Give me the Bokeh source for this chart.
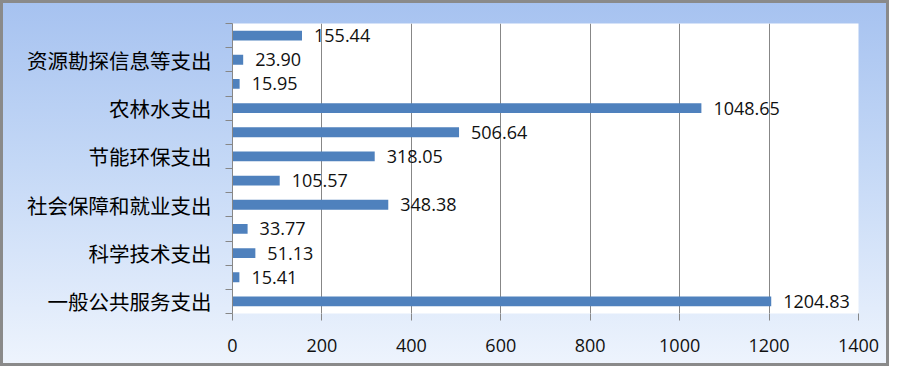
from bokeh.plotting import figure
from bokeh.models import FixedTicker, Range1d, ColumnDataSource
from bokeh.core.properties import value
from bokeh.embed import file_html
from bokeh.resources import INLINE

# Data (bottom to top)
bar_values = [1204.83, 15.41, 51.13, 33.77, 348.38, 105.57, 318.05, 506.64, 1048.65, 15.95, 23.90, 155.44]
axis_labels = ["一般公共服务支出", "科学技术支出", "社会保障和就业支出", "节能环保支出", "农林水支出", "资源勘探信息等支出"]
x_ticks = [0, 200, 400, 600, 800, 1000, 1200, 1400]

positions = [i + 0.5 for i in range(len(bar_values))]
label_positions = [positions[2 * k] for k in range(len(axis_labels))]
value_texts = ["%.2f" % v for v in bar_values]

src = ColumnDataSource(dict(y=positions, right=bar_values, txt=value_texts))

GRAY = "#878787"
p = figure(width=889, height=366, output_backend="svg", toolbar_location=None,
           x_range=Range1d(0, 1400), y_range=Range1d(0, len(bar_values)),
           min_border_left=232, min_border_right=31, min_border_top=23, min_border_bottom=53)
p.border_fill_alpha = 0
p.background_fill_color = "white"
p.outline_line_color = None
p.styles = {"background": "linear-gradient(to bottom, #a6c2f0 0%, #c4d8f6 45%, #eef4fd 100%)",
            "box-shadow": "inset 0 0 0 3px #8a8a8a"}

p.hbar(y="y", left=0, right="right", height=0.41, source=src, color="#4f81bd", line_color=None)
p.text(x="right", y="y", text="txt", source=src, x_offset=12, text_align="left", text_baseline="middle",
       text_font=value("Open Sans"), text_font_size="18px", text_color="#111111")

# x axis
p.xaxis.ticker = FixedTicker(ticks=x_ticks)
p.xaxis.axis_line_color = None
p.xaxis.major_tick_line_color = GRAY
p.xaxis.major_tick_out = 7
p.xaxis.major_tick_in = 0
p.xaxis.minor_tick_line_color = None
p.xaxis.major_label_standoff = 18
p.xaxis.major_label_text_font = "Open Sans"
p.xaxis.major_label_text_font_size = "18px"
p.xaxis.major_label_text_color = "#111111"

p.xgrid.ticker = FixedTicker(ticks=x_ticks)
p.xgrid.grid_line_color = GRAY
p.ygrid.grid_line_color = None

# y axis
p.yaxis.ticker = FixedTicker(ticks=label_positions, minor_ticks=list(range(len(bar_values) + 1)))
p.yaxis.major_label_overrides = {pos: lbl for pos, lbl in zip(label_positions, axis_labels)}
p.yaxis.axis_line_color = GRAY
p.yaxis.major_tick_line_color = None
p.yaxis.major_tick_out = 0
p.yaxis.major_tick_in = 0
p.yaxis.minor_tick_line_color = GRAY
p.yaxis.minor_tick_out = 7
p.yaxis.minor_tick_in = 0
p.yaxis.major_label_standoff = 14
p.yaxis.major_label_text_font = "Noto Sans CJK SC"
p.yaxis.major_label_text_font_size = "20.5px"
p.yaxis.major_label_text_font_style = "normal"
p.yaxis.major_label_text_color = "#000000"

open("out.html", "w").write(file_html(p, INLINE))
